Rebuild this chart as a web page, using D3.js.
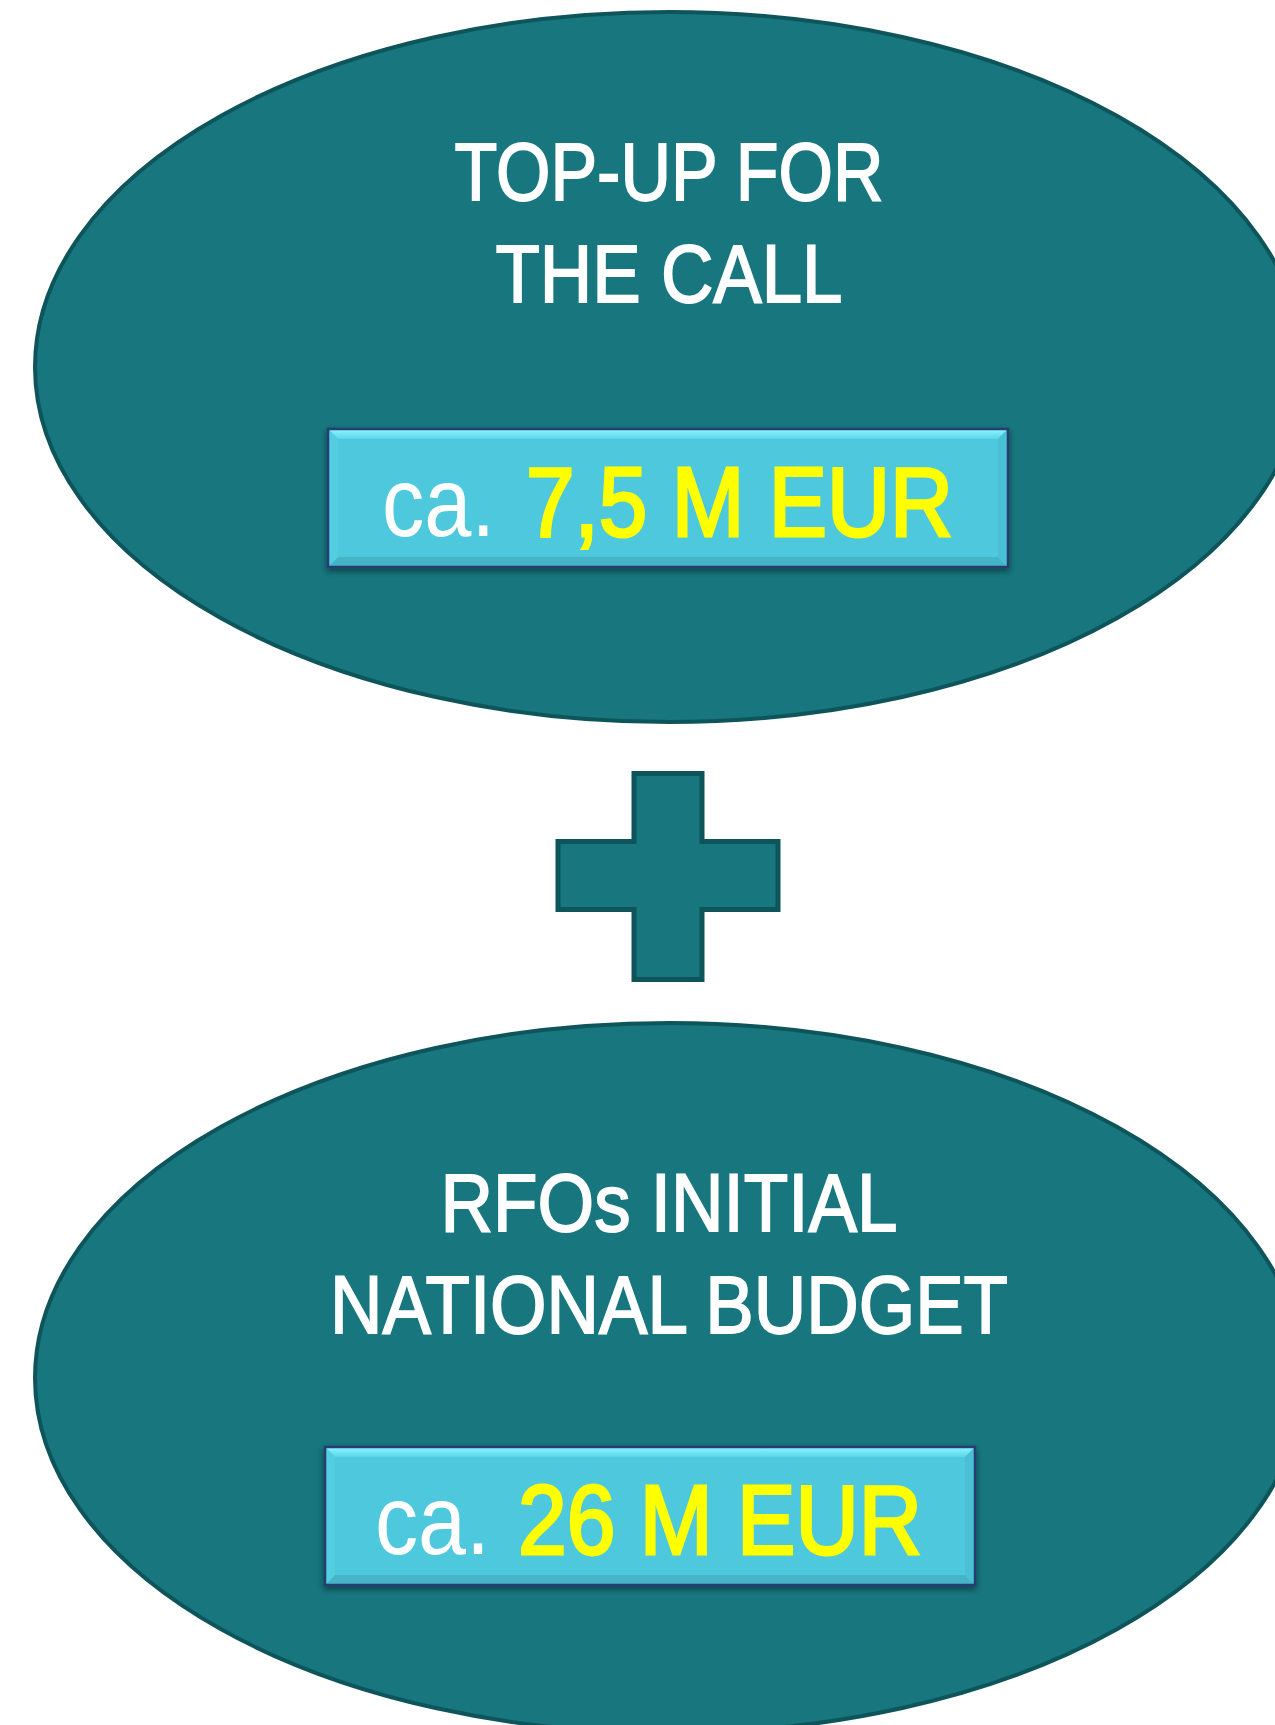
<!DOCTYPE html>
<html>
<head>
<meta charset="utf-8">
<script src="https://cdn.jsdelivr.net/npm/d3@7"></script>
<style>
	html, body { margin: 0; padding: 0; background: #fff; }
	svg { display: block; }
</style>
</head>
<body>
<div id="chart"></div>
<script>
// panels, top to bottom
var panels = ["topup", "national"];
var titleLines = [["TOP-UP FOR", "THE CALL"], ["RFOs INITIAL", "NATIONAL BUDGET"]];
var amounts = [7.5, 26];
var amountLabels = ["7,5 M EUR", "26 M EUR"];
var prefix = "ca.";

var W = 1275, H = 1725;
var FONT = "'Liberation Sans', Arial, sans-serif";

var svg = d3.select("#chart").append("svg")
	.attr("width", W)
	.attr("height", H);

var defs = svg.append("defs");

var shadow = defs.append("filter").attr("id", "shadow")
	.attr("x", "-5%").attr("y", "-10%").attr("width", "110%").attr("height", "130%");
shadow.append("feDropShadow")
	.attr("dx", 0).attr("dy", 3).attr("stdDeviation", 3)
	.attr("flood-color", "#000").attr("flood-opacity", 0.45);

var topBevel = defs.append("linearGradient").attr("id", "topBevel")
	.attr("x1", 0).attr("y1", 0).attr("x2", 0).attr("y2", 1);
topBevel.append("stop").attr("offset", "0%").attr("stop-color", "#8ef6ff");
topBevel.append("stop").attr("offset", "100%").attr("stop-color", "#5ad6e8");

// vertical position of each panel
var y = d3.scalePoint()
	.domain(panels)
	.range([367, 1378]);

var cx = 669, rx = 634, ry = 355;

// box geometry per panel (width differs slightly)
var boxW = d3.scaleOrdinal().domain(panels).range([680, 650]);
var boxX = d3.scaleOrdinal().domain(panels).range([328, 325]);

var g = svg.selectAll("g.panel")
	.data(panels)
	.enter().append("g")
	.attr("class", "panel")
	.attr("transform", function (d) { return "translate(0," + y(d) + ")"; });

g.append("ellipse")
	.attr("cx", cx)
	.attr("cy", 0)
	.attr("rx", rx)
	.attr("ry", ry)
	.attr("fill", "#17767e")
	.attr("stroke", "#0e555b")
	.attr("stroke-width", 4);

// title lines
var titleFit = [[429, 347], [457, 678]];
g.each(function (d, i) {
	var sel = d3.select(this);
	titleLines[i].forEach(function (line, j) {
		sel.append("text")
			.attr("x", cx)
			.attr("y", -167 + j * 102 - (i ? -20 : 0))
			.attr("text-anchor", "middle")
			.attr("font-family", FONT)
			.attr("font-size", 82)
			.attr("fill", "#fff")
			.attr("stroke", "#fff")
			.attr("stroke-width", 1.8)
			.attr("textLength", titleFit[i][j])
			.attr("lengthAdjust", "spacingAndGlyphs")
			.text(line);
	});
});

// amount boxes
var bh = 138;
var prefixX = [382, 375], prefixW = [113, 115];
var amountX = [526, 518], amountW = [427, 404];
g.each(function (d, i) {
	var sel = d3.select(this);
	var bx = boxX(d), bw = boxW(d);
	var by = i === 0 ? 62 : 69;
	var box = sel.append("g").attr("filter", "url(#shadow)");
	box.append("rect")
		.attr("x", bx).attr("y", by)
		.attr("width", bw).attr("height", bh)
		.attr("fill", "#4ec8dc");
	var b = 10;
	box.append("path")
		.attr("d", "M" + bx + "," + by + "h" + bw + "l" + (-b) + "," + b + "h" + (-(bw - 2 * b)) + "z")
		.attr("fill", "url(#topBevel)");
	box.append("path")
		.attr("d", "M" + bx + "," + (by + bh) + "h" + bw + "l" + (-b) + "," + (-b) + "h" + (-(bw - 2 * b)) + "z")
		.attr("fill", "#45b4c6");
	box.append("path")
		.attr("d", "M" + bx + "," + by + "l" + b + "," + b + "v" + (bh - 2 * b) + "l" + (-b) + "," + b + "z")
		.attr("fill", "#52cde0");
	box.append("path")
		.attr("d", "M" + (bx + bw) + "," + by + "l" + (-b) + "," + b + "v" + (bh - 2 * b) + "l" + b + "," + b + "z")
		.attr("fill", "#49c0d3");
	box.append("rect")
		.attr("x", bx).attr("y", by)
		.attr("width", bw).attr("height", bh)
		.attr("fill", "none")
		.attr("stroke", "#283d70")
		.attr("stroke-width", 2.5);

	sel.append("text")
		.attr("x", prefixX[i])
		.attr("y", by + 107)
		.attr("font-family", FONT)
		.attr("font-size", 99)
		.attr("fill", "#fff")
		.attr("textLength", prefixW[i])
		.attr("lengthAdjust", "spacingAndGlyphs")
		.text(prefix);
	sel.append("text")
		.attr("x", amountX[i])
		.attr("y", by + 107)
		.attr("font-family", FONT)
		.attr("font-size", 99)
		.attr("fill", "#ffff00")
		.attr("stroke", "#ffff00")
		.attr("stroke-width", 3)
		.attr("textLength", amountW[i])
		.attr("lengthAdjust", "spacingAndGlyphs")
		.text(amountLabels[i]);
});

// plus sign between the panels
var pc = { x: 668, y: (y(panels[0]) + y(panels[1])) / 2 + 3 };
var arm = 34, len = 110;
svg.append("path")
	.attr("d", [
		"M", pc.x - arm, pc.y - len + 8,
		"H", pc.x + arm,
		"V", pc.y - arm,
		"H", pc.x + len,
		"V", pc.y + arm,
		"H", pc.x + arm,
		"V", pc.y + len - 6,
		"H", pc.x - arm,
		"V", pc.y + arm,
		"H", pc.x - len,
		"V", pc.y - arm,
		"H", pc.x - arm,
		"Z"
	].join(" "))
	.attr("fill", "#17767e")
	.attr("stroke", "#0e555b")
	.attr("stroke-width", 5);
</script>
</body>
</html>
